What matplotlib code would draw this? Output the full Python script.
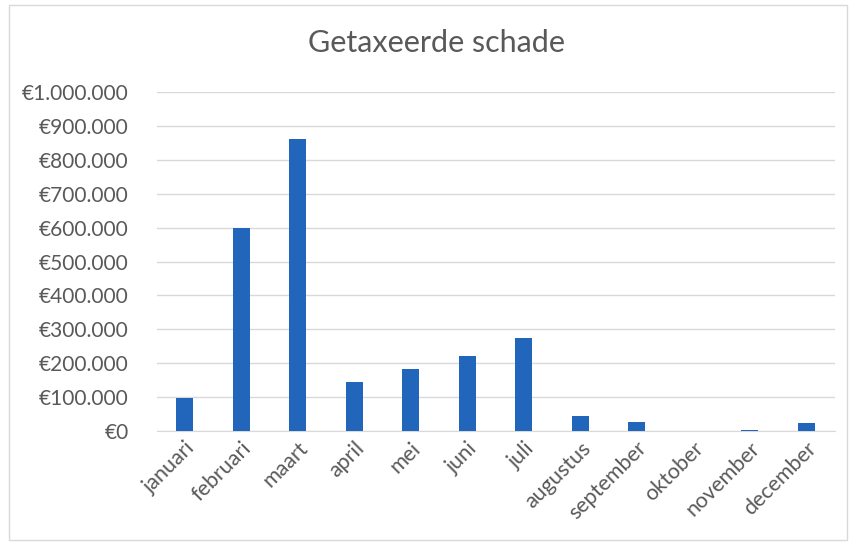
import matplotlib
matplotlib.use("Agg")
import matplotlib.pyplot as plt
from matplotlib.ticker import FuncFormatter, MultipleLocator
from matplotlib.patches import Rectangle

maanden = ["januari", "februari", "maart", "april", "mei", "juni", "juli",
           "augustus", "september", "oktober", "november", "december"]
schade = [97000, 600000, 862000, 145000, 183000, 221000, 274000,
          45000, 28000, 1500, 4000, 25000]

plt.rcParams['font.family'] = ['Lato', 'DejaVu Sans']

fig = plt.figure(figsize=(8.56, 5.45), dpi=100)
ax = fig.add_axes([0.183, 0.209, 0.792, 0.622])

x = range(len(maanden))
ax.bar(x, schade, width=0.3, color="#2266BB", zorder=3)

ax.set_ylim(0, 1000000)
ax.set_xlim(-0.5, len(maanden) - 0.5)
ax.yaxis.set_major_locator(MultipleLocator(100000))


def euro(v, pos):
    return "€" + f"{int(round(v)):,}".replace(",", ".")


ax.yaxis.set_major_formatter(FuncFormatter(euro))
ax.grid(axis="y", color="#D9D9D9", linewidth=1, zorder=0)
for s in ["top", "right", "left"]:
    ax.spines[s].set_visible(False)
ax.spines["bottom"].set_color("#D9D9D9")

ax.set_xticks(list(x))
ax.set_xticklabels(maanden, rotation=45, ha="right", rotation_mode="anchor")
ax.tick_params(axis="both", length=0, labelsize=15, colors="#595959")
ax.tick_params(axis="y", pad=20)
ax.tick_params(axis="x", pad=5, labelsize=15.5)

fig.text(0.51, 0.921, "Getaxeerde schade", ha="center", va="center",
         fontsize=22, color="#595959")

fig.patches.append(Rectangle((0.01, 0.01), 0.98, 0.98, transform=fig.transFigure,
                             fill=False, edgecolor="#D9D9D9", linewidth=1))

fig.savefig("out.png", dpi=100)
